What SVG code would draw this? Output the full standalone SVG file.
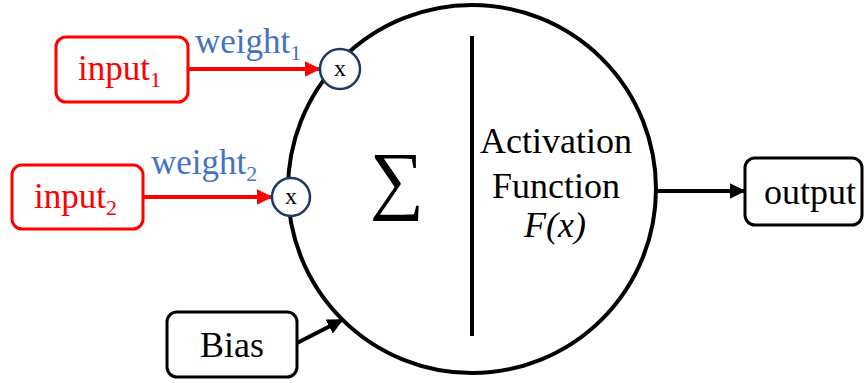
<svg xmlns="http://www.w3.org/2000/svg" width="867" height="383" viewBox="0 0 867 383">
<defs>
<style>
text{font-family:"Liberation Serif","Times New Roman","DejaVu Serif",serif;font-size:35px;}
.red{fill:#FF0000;}
.blue{fill:#4472C4;}
.blk{fill:#000;}
.rbox{fill:#fff;stroke:#FF0000;stroke-width:3;}
.kbox{fill:#fff;stroke:#000;stroke-width:3;}
.mul{fill:#fff;stroke:#1F3864;stroke-width:2.5;}
.sub{font-size:22px;}
.x{font-size:24px;}
.big{font-size:36px;}
</style>
<marker id="ar" viewBox="0 0 10 10" refX="9" refY="5" markerWidth="4" markerHeight="4" orient="auto" markerUnits="strokeWidth"><path d="M0,0 L10,5 L0,10 z" fill="#FF0000"/></marker>
<marker id="ak" viewBox="0 0 10 10" refX="9" refY="5" markerWidth="4" markerHeight="4" orient="auto" markerUnits="strokeWidth"><path d="M0,0 L10,5 L0,10 z" fill="#000"/></marker>
</defs>
<g id="neuron">
<circle cx="472" cy="189" r="184" fill="#fff" stroke="#000" stroke-width="4"/>
<line x1="472" y1="36" x2="472" y2="336" stroke="#000" stroke-width="4"/>
<text class="blk" x="397" y="205" style="font-size:76px" text-anchor="middle">∑</text>
<text class="blk big" x="556" y="153" text-anchor="middle">Activation</text>
<text class="blk big" x="556" y="198" text-anchor="middle">Function</text>
<text class="blk big" x="555" y="237" text-anchor="middle" font-style="italic">F(x)</text>
</g>
<g id="connectors">
<line x1="188" y1="69" x2="319" y2="69" stroke="#FF0000" stroke-width="4" marker-end="url(#ar)"/>
<line x1="143" y1="197" x2="271" y2="197" stroke="#FF0000" stroke-width="4" marker-end="url(#ar)"/>
<line x1="297" y1="343" x2="342" y2="320" stroke="#000" stroke-width="4" marker-end="url(#ak)"/>
<line x1="657" y1="191" x2="744" y2="191" stroke="#000" stroke-width="4" marker-end="url(#ak)"/>
<text class="blue" x="195" y="53">weight<tspan class="sub" dy="7">1</tspan></text>
<text class="blue" x="151" y="174">weight<tspan class="sub" dy="7">2</tspan></text>
</g>
<g id="input1">
<rect class="rbox" x="56" y="37" width="132" height="65" rx="10"/>
<text class="red" x="78" y="80">input<tspan class="sub" dy="7">1</tspan></text>
</g>
<g id="input2">
<rect class="rbox" x="12" y="165" width="131" height="64" rx="10"/>
<text class="red" x="34" y="208">input<tspan class="sub" dy="7">2</tspan></text>
</g>
<g id="mult1">
<circle class="mul" cx="340" cy="69" r="20"/>
<text class="blk x" x="340" y="76" text-anchor="middle">x</text>
</g>
<g id="mult2">
<circle class="mul" cx="291" cy="197" r="19"/>
<text class="blk x" x="291" y="204" text-anchor="middle">x</text>
</g>
<g id="bias">
<rect class="kbox" x="167" y="312" width="130" height="65" rx="10"/>
<text class="blk big" x="232" y="357" text-anchor="middle">Bias</text>
</g>
<g id="output">
<rect class="kbox" x="745" y="158" width="117" height="67" rx="10"/>
<text class="blk big" x="810" y="204" text-anchor="middle">output</text>
</g>
</svg>
